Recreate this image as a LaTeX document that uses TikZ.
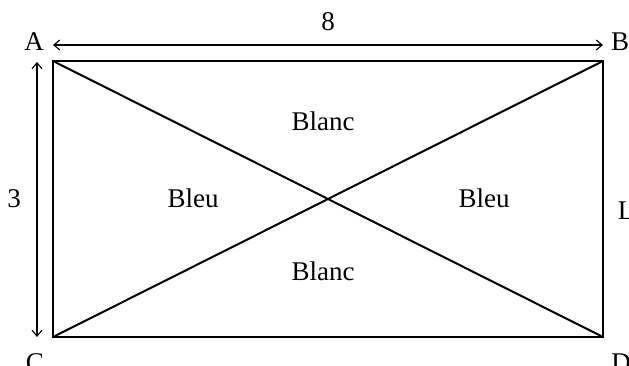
\documentclass[tikz,border=0pt]{standalone}
\usepackage{fontspec}
\setmainfont{Liberation Serif}
\usetikzlibrary{arrows.meta}
\begin{document}
\begin{tikzpicture}[x=1pt,y=-1pt,
  lbl/.style={inner sep=0pt,font=\fontsize{27}{32}\selectfont},
  thick line/.style={line width=2pt,line join=miter},
  dim/.style={line width=1.1pt,{Straight Barb[length=6pt,width=10pt]}-{Straight Barb[length=6pt,width=10pt]}}]
\useasboundingbox (0,0) rectangle (629,366);
\coordinate (A) at (53,61);
\coordinate (B) at (603,61);
\coordinate (C) at (53,337);
\coordinate (D) at (603,337);
\draw[thick line] (A) -- (B) -- (D) -- (C) -- cycle;
\draw[thick line] (A) -- (D);
\draw[thick line] (C) -- (B);
\node[lbl] (la) at (34,42) {A};
\node[lbl] (lb) at (620,42) {B};
\node[lbl] (lc) at (35,363) {C};
\node[lbl] (ld) at (621,363) {D};
\node[lbl] (ll) at (626,211) {L};
\node[lbl] (l8) at (328,22) {8};
\node[lbl] (l3) at (14,199) {3};
\coordinate (t1) at (53,45);
\coordinate (t2) at (603,45);
\coordinate (s1) at (37,62);
\coordinate (s2) at (37,337);
\draw[dim] (t1) -- (t2);
\draw[dim] (s1) -- (s2);
\node[lbl] (b1) at (193,198) {Bleu};
\node[lbl] (b2) at (484,198) {Bleu};
\node[lbl] (w1) at (323,121) {Blanc};
\node[lbl] (w2) at (323,271) {Blanc};
\end{tikzpicture}
\end{document}
